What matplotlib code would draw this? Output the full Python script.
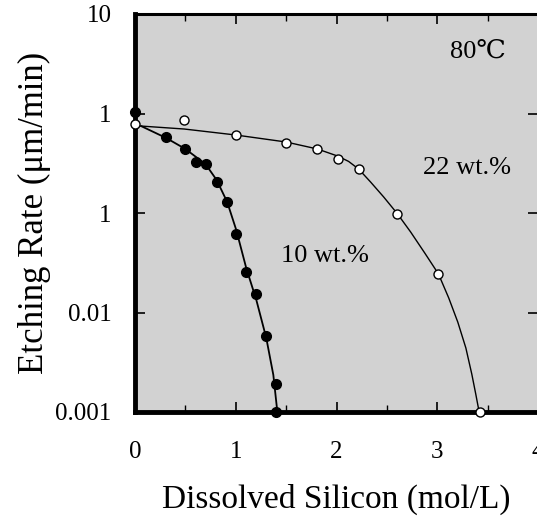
import numpy as np
import matplotlib
matplotlib.use("Agg")
import matplotlib.pyplot as plt

# measured points, 10 wt.% (filled)
si_10 = [0.0, 0.31, 0.50, 0.61, 0.70, 0.81, 0.91, 1.00, 1.10, 1.20, 1.30, 1.40, 1.40]
rate_10 = [1.03, 0.577, 0.443, 0.326, 0.31, 0.203, 0.130, 0.061, 0.0257, 0.0155, 0.00585, 0.00191, 0.001]

# measured points, 22 wt.% (open)
si_22 = [0.0, 0.49, 1.00, 1.50, 1.81, 2.01, 2.22, 2.60, 3.01, 3.42]
rate_22 = [0.78, 0.86, 0.608, 0.509, 0.436, 0.349, 0.275, 0.0984, 0.0242, 0.001]

# fitted curves
fit_x_10 = [0.06, 0.31, 0.50, 0.70, 0.81, 0.915, 1.005, 1.104, 1.204, 1.303, 1.373, 1.413]
fit_y_10 = [0.748, 0.567, 0.44, 0.31, 0.215, 0.129, 0.0675, 0.028, 0.0134, 0.00554, 0.00236, 0.001]

fit_x_22 = [0.06, 0.49, 1.00, 1.50, 1.81, 2.01, 2.12, 2.219, 2.338, 2.468, 2.604, 2.736, 2.876,
            3.012, 3.114, 3.204, 3.284, 3.343, 3.383, 3.416]
fit_y_22 = [0.748, 0.698, 0.608, 0.517, 0.44, 0.374, 0.33, 0.277, 0.205, 0.145, 0.0984, 0.0644, 0.0396,
            0.0244, 0.0140, 0.0080, 0.0044, 0.0024, 0.0015, 0.001]

x_ticks = [0, 1, 2, 3, 4]
y_ticks = [10, 1, 0.1, 0.01, 0.001]
y_tick_labels = ["10", "1", "1", "0.01", "0.001"]

plt.rcParams['font.family'] = ['Liberation Serif', 'DejaVu Serif']

fig = plt.figure(figsize=(5.37, 5.18), dpi=100)
ax = fig.add_axes([135 / 537, 106 / 518, 403 / 537, 398 / 518])
ax.set_facecolor('#d2d2d2')

ax.plot(fit_x_10, fit_y_10, color='black', lw=1.3, zorder=2)
ax.plot(fit_x_22, fit_y_22, color='black', lw=1.0, zorder=2)
ax.plot(si_10, rate_10, 'o', color='black', ms=7, zorder=3, clip_on=False)
ax.plot(si_22, rate_22, 'o', mfc='white', mec='black', mew=1.0, ms=6.5, zorder=3, clip_on=False)

ax.set_yscale('log')
ax.set_xlim(0, 4)
ax.set_ylim(0.001, 10)
ax.set_xticks(x_ticks)
ax.set_yticks(y_ticks)
ax.set_yticklabels(y_tick_labels)
ax.set_xticks([0.5, 1.5, 2.5, 3.5], minor=True)
ax.yaxis.set_minor_locator(matplotlib.ticker.NullLocator())
ax.tick_params(which='both', direction='in', top=True, right=True, labelsize=18)
ax.tick_params(axis='x', which='both', pad=21)
ax.tick_params(axis='y', which='both', pad=17)
ax.tick_params(which='major', length=7, width=1.2)
ax.tick_params(which='minor', length=5, width=1.0)

for side in ['left', 'bottom']:
    ax.spines[side].set_linewidth(3.5)
ax.spines['top'].set_linewidth(2.2)
ax.spines['right'].set_linewidth(2.2)

ax.text(3.4, 4.15, '80\u2103', fontsize=19, ha='center', va='center')
ax.text(3.30, 0.283, '22 wt.%', fontsize=19, ha='center', va='center')
ax.text(1.89, 0.037, '10 wt.%', fontsize=19, ha='center', va='center')

ax.set_xlabel('Dissolved Silicon (mol/L)', fontsize=24, labelpad=15)
ax.set_ylabel('Etching Rate (\u03bcm/min)', fontsize=25, labelpad=3)

fig.savefig('out.png', dpi=100)
